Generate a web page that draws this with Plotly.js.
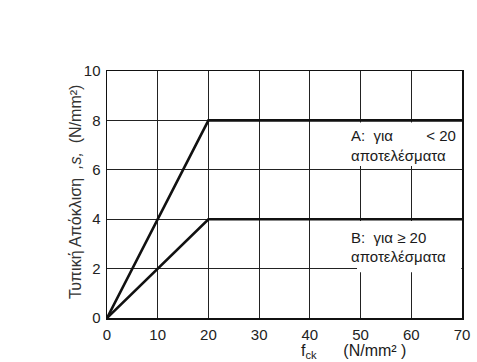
<!DOCTYPE html>
<html>
<head>
<meta charset="utf-8">
<script src="https://cdn.plot.ly/plotly-3.0.1.min.js"></script>
<style>html,body{margin:0;padding:0;background:#fff;}#chart{width:477px;height:362px;}</style>
</head>
<body>
<div id="chart"></div>
<script>
// Data
const fck = [0, 20, 70];
const seriesA = [0, 8, 8];
const seriesB = [0, 4, 4];
const xTicks = [0, 10, 20, 30, 40, 50, 60, 70];
const yTicks = [0, 2, 4, 6, 8, 10];
const NB = "\u00a0";
const labelA1 = "A:" + NB + NB + "για" + NB.repeat(8) + "< 20";
const labelA2 = "αποτελέσματα";
const labelB1 = "B:" + NB + NB + "για ≥ 20";
const labelB2 = "αποτελέσματα";
const xTitle = "f<sub>ck</sub>" + NB.repeat(6) + "(N/mm² )";
const yTitle = "Τυπική Απόκλιση" + NB + NB + "<i>,s,</i>" + NB + NB + "(N/mm²)";

const font = "Liberation Sans, Arial, sans-serif";
const lineStyle = {color: "#111", width: 2.6};

const traces = [
  {x: fck, y: seriesA, mode: "lines", line: lineStyle, hoverinfo: "skip"},
  {x: fck, y: seriesB, mode: "lines", line: lineStyle, hoverinfo: "skip"}
];

const layout = {
  width: 477, height: 362,
  margin: {l: 107, r: 15, t: 71, b: 44},
  paper_bgcolor: "#fff", plot_bgcolor: "#fff",
  showlegend: false,
  font: {family: font, color: "#1a1a1a", size: 15},
  xaxis: {
    range: [0, 70], tickvals: xTicks, ticktext: xTicks.map(String),
    showgrid: true, gridcolor: "#222", gridwidth: 1,
    showline: true, linecolor: "#111", linewidth: 1.5, mirror: true,
    zeroline: false, ticks: "", ticklabelstandoff: 2,
    tickfont: {size: 15, family: font, color: "#222"}, fixedrange: true
  },
  yaxis: {
    range: [0, 10], tickvals: yTicks, ticktext: yTicks.map(String),
    showgrid: true, gridcolor: "#222", gridwidth: 1,
    showline: true, linecolor: "#111", linewidth: 1.5, mirror: true,
    zeroline: false, ticks: "", ticklabelstandoff: 2,
    tickfont: {size: 15, family: font, color: "#222"}, fixedrange: true
  },
  shapes: [
    {type: "rect", xref: "x", yref: "y", x0: 44.5, x1: 69.85, y0: 6.15, y1: 7.92,
     fillcolor: "#fff", line: {width: 0}, layer: "between"},
    {type: "rect", xref: "x", yref: "y", x0: 49.3, x1: 69.85, y0: 1.85, y1: 3.93,
     fillcolor: "#fff", line: {width: 0}, layer: "between"}
  ],
  annotations: [
    {x: 0.682, y: 7.37, xref: "paper", yref: "y", xanchor: "left", yanchor: "middle",
     text: labelA1, showarrow: false, font: {size: 15, family: font, color: "#1a1a1a"}},
    {x: 0.682, y: 6.56, xref: "paper", yref: "y", xanchor: "left", yanchor: "middle",
     text: labelA2, showarrow: false, font: {size: 15, family: font, color: "#1a1a1a"}},
    {x: 0.682, y: 3.24, xref: "paper", yref: "y", xanchor: "left", yanchor: "middle",
     text: labelB1, showarrow: false, font: {size: 15, family: font, color: "#1a1a1a"}},
    {x: 0.682, y: 2.47, xref: "paper", yref: "y", xanchor: "left", yanchor: "middle",
     text: labelB2, showarrow: false, font: {size: 15, family: font, color: "#1a1a1a"}},
    {x: 0.541, y: -0.135, xref: "paper", yref: "paper", xanchor: "left", yanchor: "middle",
     text: xTitle, showarrow: false, font: {size: 16, family: font, color: "#1a1a1a"}},
    {x: -0.09, y: 0.51, xref: "paper", yref: "paper", xanchor: "center", yanchor: "middle",
     text: yTitle, textangle: -90, showarrow: false, font: {size: 16, family: font, color: "#333"}}
  ]
};

Plotly.newPlot("chart", traces, layout, {staticPlot: true, displayModeBar: false});
</script>
</body>
</html>
